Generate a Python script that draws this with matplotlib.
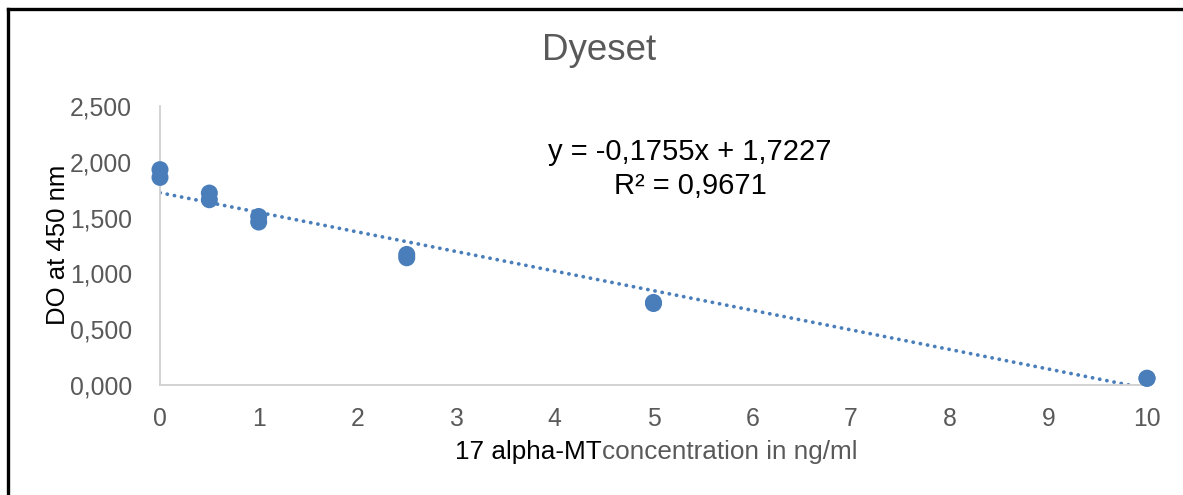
import numpy as np
import matplotlib
matplotlib.use('Agg')
import matplotlib.pyplot as plt
from matplotlib.ticker import FuncFormatter
from matplotlib.lines import Line2D

plt.rcParams['font.family'] = ['Liberation Sans', 'DejaVu Sans']

# data
conc = [0, 0, 0.5, 0.5, 1, 1, 2.5, 2.5, 5, 5, 10, 10]
do450 = [1.93, 1.86, 1.72, 1.66, 1.51, 1.46, 1.17, 1.14, 0.74, 0.73, 0.06, 0.06]
slope = -0.1755
intercept = 1.7227
r2 = 0.9671
x_ticks = list(range(0, 11))
y_ticks = [0, 0.5, 1.0, 1.5, 2.0, 2.5]

W, H = 1183, 495
fig = plt.figure(figsize=(W / 100, H / 100), dpi=100)
ax = fig.add_axes([160 / W, (H - 385) / H, (1147 - 160) / W, (385 - 106) / H])

blue = '#4a7ebb'
gray = '#595959'

xs = np.array([0, 10])
ax.plot(xs, slope * xs + intercept, linestyle=(0, (0.05, 1.9)), dash_capstyle='round',
        color=blue, lw=2.7, zorder=2)
ax.scatter(conc, do450, s=150, color=blue, zorder=3, edgecolors='none', clip_on=False)

ax.set_xlim(0, 10)
ax.set_ylim(0, 2.5)
ax.set_xticks(x_ticks)
ax.set_yticks(y_ticks)
ax.yaxis.set_major_formatter(FuncFormatter(lambda v, p: f"{v:.3f}".replace('.', ',')))
ax.tick_params(length=0, labelsize=17.8, labelcolor=gray)
ax.tick_params(axis='y', pad=20)
ax.tick_params(axis='x', pad=16)
for s in ['top', 'right']:
    ax.spines[s].set_visible(False)
for s in ['left', 'bottom']:
    ax.spines[s].set_color('#d0d0d0')
    ax.spines[s].set_linewidth(1.3)

# y label
fig.text(58 / W, 1 - 245 / H, 'DO at 450 nm', rotation=90, ha='center', va='center',
         fontsize=18.5, color='black')

# title and trendline equation
fig.text(599 / W, 1 - 51 / H, 'Dyeset', ha='center', va='center', fontsize=26.5, color=gray)
fig.text(690 / W, 1 - 152 / H, f"y = {slope:.4f}x + {intercept:.4f}".replace('.', ','),
         ha='center', va='center', fontsize=21, color='black')
fig.text(690 / W, 1 - 186 / H, f"R² = {r2:.4f}".replace('.', ','),
         ha='center', va='center', fontsize=21, color='black')

# x label in two colours
t1 = fig.text(455 / W, 1 - 452 / H, '17 alpha-MT', ha='left', va='center',
              fontsize=18.8, color='black')
fig.canvas.draw()
bb = t1.get_window_extent(fig.canvas.get_renderer())
fig.text(bb.x1 / W, 1 - 452 / H, 'concentration in ng/ml', ha='left', va='center',
         fontsize=18.8, color=gray)

# frame on top and left edges
fig.add_artist(Line2D([8 / W, 1], [1 - 9 / H, 1 - 9 / H], color='black', lw=2.4))
fig.add_artist(Line2D([8 / W, 8 / W], [0, 1 - 9 / H], color='black', lw=2.4))

fig.savefig('out.png', dpi=100, facecolor='white')
